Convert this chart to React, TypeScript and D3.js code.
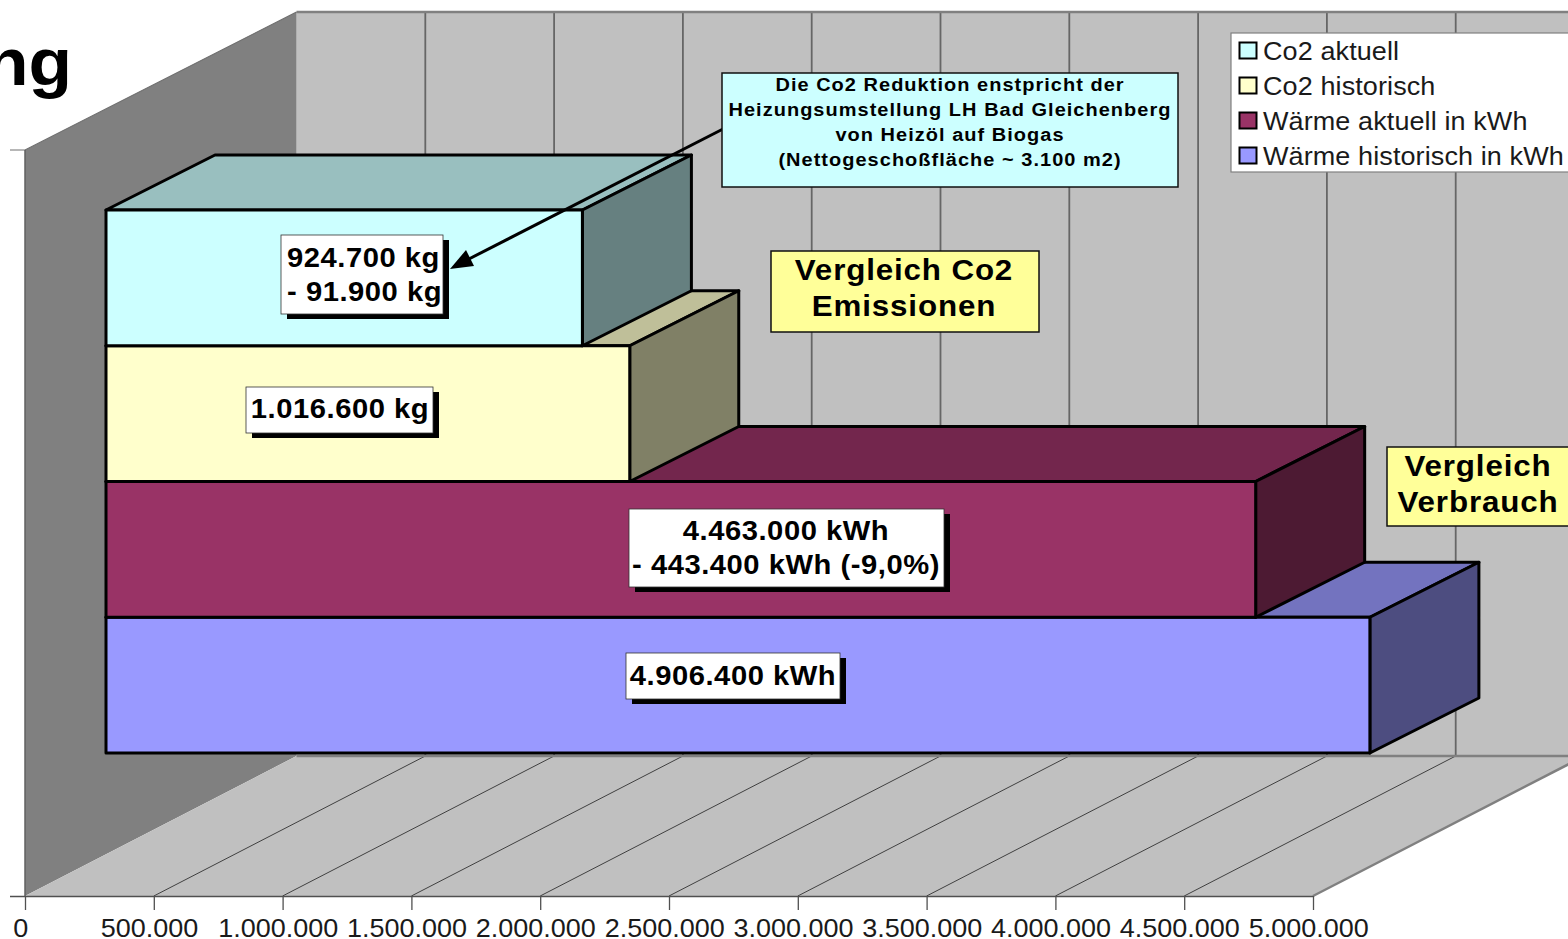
import React, { useEffect, useRef } from 'react';
import * as d3 from 'd3';

const series = ['Wärme historisch in kWh', 'Wärme aktuell in kWh', 'Co2 historisch', 'Co2 aktuell'];
// the Co2 bars are plotted at about twice their kg figure
const values = [4906400, 4463000, 2033200, 1849400];
const colors = ['#9999ff', '#993366', '#ffffcc', '#ccffff'];
const legendOrder = ['Co2 aktuell', 'Co2 historisch', 'Wärme aktuell in kWh', 'Wärme historisch in kWh'];
const xTicks = [0, 500000, 1000000, 1500000, 2000000, 2500000, 3000000, 3500000, 4000000, 4500000, 5000000];

const noteLines = [
  'Die Co2 Reduktion enstpricht der',
  'Heizungsumstellung LH Bad Gleichenberg',
  'von Heizöl auf Biogas',
  '(Nettogeschoßfläche ~ 3.100 m2)',
];

const WIDTH = 1568;
const HEIGHT = 939;
const FONT = '"Liberation Sans", Arial, sans-serif';
const STRETCH = 1.08; // the picture is a little wider than tall

// wall offset of the 3D box and depth of a bar
const WALL = { dx: 271.5, dy: -140 };
const DEPTH = { dx: 109, dy: -55 };
const BAR_SHIFT = 81;

export default function App() {
  const ref = useRef<SVGSVGElement>(null);

  useEffect(() => {
    const svg = d3.select(ref.current);
    svg.selectAll('*').remove();

    const xScale = d3.scaleLinear().domain([0, 5000000]).range([25, 1313]);
    const yBase = 896;
    const yTop = 150;
    const floorY = yBase + WALL.dy;
    const topY = 12;

    const yScale = d3
      .scaleBand()
      .domain(series)
      .range([854.5, 108.5])
      .paddingInner(0)
      .paddingOuter(0.7477);

    const poly = (pts: number[][]) => pts.map((p) => p.join(',')).join(' ');

    const text = (
      g: any,
      str: string,
      x: number,
      y: number,
      size: number,
      bold: boolean,
      anchor = 'middle',
    ) =>
      g
        .append('text')
        .attr('transform', `translate(${x},${y}) scale(${STRETCH},1)`)
        .attr('text-anchor', anchor)
        .attr('font-family', FONT)
        .attr('font-size', size)
        .attr('font-weight', bold ? 'bold' : 'normal')
        .attr('fill', bold ? '#000' : '#1a1a1a')
        .text(str);

    // title remainder, cut off by the page edge
    text(svg, 'ng', 72, 85, 66, true, 'end');

    // back wall
    const x0 = xScale(0);
    const x5 = xScale(5000000);
    svg
      .append('rect')
      .attr('x', x0 + WALL.dx)
      .attr('y', topY)
      .attr('width', x5 - x0)
      .attr('height', floorY - topY)
      .attr('fill', '#c0c0c0');

    // left wall
    svg
      .append('polygon')
      .attr(
        'points',
        poly([
          [x0, yTop],
          [x0 + WALL.dx, topY],
          [x0 + WALL.dx, floorY],
          [x0, yBase],
        ]),
      )
      .attr('fill', '#808080');

    // floor
    svg
      .append('polygon')
      .attr(
        'points',
        poly([
          [x0, yBase],
          [x5, yBase],
          [x5 + WALL.dx, floorY],
          [x0 + WALL.dx, floorY],
        ]),
      )
      .attr('fill', '#c0c0c0');

    // grid on back wall and floor
    xTicks.forEach((t) => {
      const x = xScale(t);
      svg
        .append('line')
        .attr('x1', x + WALL.dx)
        .attr('x2', x + WALL.dx)
        .attr('y1', topY)
        .attr('y2', floorY)
        .attr('stroke', '#666')
        .attr('stroke-width', t === 0 ? 0 : 1.8);
      if (t > 0 && t < 5000000) {
        svg
          .append('line')
          .attr('x1', x)
          .attr('y1', yBase)
          .attr('x2', x + WALL.dx)
          .attr('y2', floorY)
          .attr('stroke', '#404040')
          .attr('stroke-width', 1);
      }
    });

    // wall and floor edges
    svg
      .append('path')
      .attr('d', `M${x0 + WALL.dx},${topY}H${x5 + WALL.dx}`)
      .attr('stroke', '#808080')
      .attr('stroke-width', 2.5)
      .attr('fill', 'none');
    svg
      .append('path')
      .attr('d', `M${x0 + WALL.dx},${floorY}H${x5 + WALL.dx}`)
      .attr('stroke', '#808080')
      .attr('stroke-width', 2.5)
      .attr('fill', 'none');
    svg
      .append('path')
      .attr('d', `M${x5},${yBase}L${x5 + WALL.dx},${floorY}`)
      .attr('stroke', '#808080')
      .attr('stroke-width', 2.5)
      .attr('fill', 'none');
    svg
      .append('path')
      .attr('d', `M10,${yTop}H${x0}L${x0 + WALL.dx},${topY}`)
      .attr('stroke', '#707070')
      .attr('stroke-width', 1.2)
      .attr('fill', 'none');
    svg
      .append('line')
      .attr('x1', x0)
      .attr('x2', x0)
      .attr('y1', yTop)
      .attr('y2', yBase)
      .attr('stroke', '#606060')
      .attr('stroke-width', 1.5);

    // x axis
    const nf = d3.formatLocale({ decimal: ',', thousands: '.', grouping: [3], currency: ['', ''] }).format(',');
    const axis = svg
      .append('g')
      .attr('transform', `translate(0,${yBase})`)
      .call(
        d3
          .axisBottom(xScale)
          .tickValues(xTicks)
          .tickSize(14)
          .tickPadding(9)
          .tickSizeOuter(0)
          .tickFormat((d: any) => nf(d)),
      );
    axis.select('.domain').attr('d', `M10,0.5H${x5}`).attr('stroke', '#505050').attr('stroke-width', 1.3);
    axis.selectAll('.tick line').attr('stroke', '#505050').attr('stroke-width', 1.3);
    axis
      .selectAll('.tick text')
      .attr('x', -4.5)
      .attr('font-family', FONT)
      .attr('font-size', 25)
      .attr('fill', '#1a1a1a')
      .attr('transform', `scale(${STRETCH},1)`);

    // bars, bottom one first so the next front face hides its top
    series.forEach((name, i) => {
      const c = d3.rgb(colors[i]);
      const shade = (k: number) => d3.rgb(c.r * k, c.g * k, c.b * k).formatHex();
      const left = x0 + BAR_SHIFT;
      const right = xScale(values[i]) + BAR_SHIFT;
      const top = yScale(name) as number;
      const bottom = top + yScale.bandwidth();
      const g = svg
        .append('g')
        .attr('stroke', '#000')
        .attr('stroke-width', 3)
        .attr('stroke-linejoin', 'round');
      g.append('polygon')
        .attr(
          'points',
          poly([
            [left, top],
            [right, top],
            [right + DEPTH.dx, top + DEPTH.dy],
            [left + DEPTH.dx, top + DEPTH.dy],
          ]),
        )
        .attr('fill', shade(0.75));
      g.append('polygon')
        .attr(
          'points',
          poly([
            [right, top],
            [right + DEPTH.dx, top + DEPTH.dy],
            [right + DEPTH.dx, bottom + DEPTH.dy],
            [right, bottom],
          ]),
        )
        .attr('fill', shade(0.5));
      g.append('rect')
        .attr('x', left)
        .attr('y', top)
        .attr('width', right - left)
        .attr('height', bottom - top)
        .attr('fill', colors[i]);
    });

    // callouts on the bars
    const valueBox = (x: number, y: number, w: number, h: number, lines: string[], tx: number, ys: number[], anchor: string) => {
      svg.append('rect').attr('x', x + 6).attr('y', y + 5).attr('width', w).attr('height', h).attr('fill', '#000');
      svg
        .append('rect')
        .attr('x', x)
        .attr('y', y)
        .attr('width', w)
        .attr('height', h)
        .attr('fill', '#fff')
        .attr('stroke', '#333')
        .attr('stroke-width', 0.8);
      lines.forEach((l, i) => text(svg, l, tx, ys[i], 27, true, anchor).attr('letter-spacing', 0.5));
    };
    valueBox(281, 235, 162, 79, ['924.700 kg', '- 91.900 kg'], 287, [267, 301], 'start');
    valueBox(246, 387, 187, 46, ['1.016.600 kg'], 340, [418], 'middle');
    valueBox(629, 509, 315, 78, ['4.463.000 kWh', '- 443.400 kWh (-9,0%)'], 786, [540, 574], 'middle');
    valueBox(626, 653, 214, 46, ['4.906.400 kWh'], 733, [685], 'middle');

    // note with arrow
    svg
      .append('line')
      .attr('x1', 723)
      .attr('y1', 129)
      .attr('x2', 465)
      .attr('y2', 261)
      .attr('stroke', '#000')
      .attr('stroke-width', 3);
    svg.append('polygon').attr('points', '450,269 466,250 474,266').attr('fill', '#000');
    svg
      .append('rect')
      .attr('x', 722)
      .attr('y', 73)
      .attr('width', 456)
      .attr('height', 114)
      .attr('fill', '#ccffff')
      .attr('stroke', '#111')
      .attr('stroke-width', 1.5);
    noteLines.forEach((l, i) => {
      text(svg, l, 950, 91 + i * 25, 18.5, true).attr('letter-spacing', 0.95);
    });

    const labelBox = (x: number, y: number, w: number, h: number, lines: string[], tx: number, ys: number[]) => {
      svg
        .append('rect')
        .attr('x', x)
        .attr('y', y)
        .attr('width', w)
        .attr('height', h)
        .attr('fill', '#ffff99')
        .attr('stroke', '#111')
        .attr('stroke-width', 1.5);
      lines.forEach((l, i) => text(svg, l, tx, ys[i], 29, true).attr('letter-spacing', 0.8));
    };
    labelBox(771, 251, 268, 81, ['Vergleich Co2', 'Emissionen'], 904, [280, 316]);
    labelBox(1387, 447, 190, 79, ['Vergleich', 'Verbrauch'], 1478, [476, 512]);

    // legend
    const legend = svg.append('g');
    legend
      .append('rect')
      .attr('x', 1231)
      .attr('y', 33)
      .attr('width', 345)
      .attr('height', 139)
      .attr('fill', '#fff')
      .attr('stroke', '#808080')
      .attr('stroke-width', 1.2);
    legendOrder.forEach((name, i) => {
      const cy = 51 + i * 35;
      legend
        .append('rect')
        .attr('x', 1239.5)
        .attr('y', cy - 8.5)
        .attr('width', 17)
        .attr('height', 16)
        .attr('fill', colors[series.indexOf(name)])
        .attr('stroke', '#000')
        .attr('stroke-width', 2);
      text(legend, name, 1263, cy + 8.5, 25, false, 'start').attr('letter-spacing', 0.1);
    });
  }, []);

  return (
    <svg
      ref={ref}
      width={WIDTH}
      height={HEIGHT}
      style={{ position: 'absolute', left: 0, top: 0, display: 'block', background: '#fff' }}
    />
  );
}
